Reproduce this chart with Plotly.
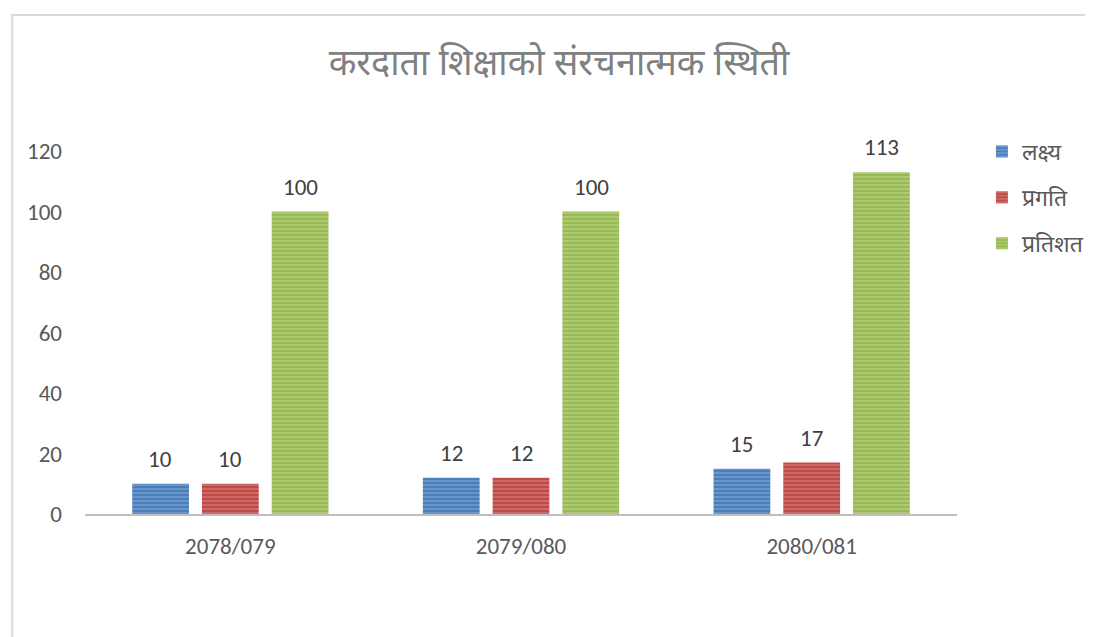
import plotly.graph_objects as go

categories = ["2078/079", "2079/080", "2080/081"]
series_names = ["लक्ष्य", "प्रगति", "प्रतिशत"]
target = [10, 12, 15]
progress = [10, 12, 17]
percent = [100, 100, 113]
y_ticks = [0, 20, 40, 60, 80, 100, 120]

colors = ["#4a7ebb", "#be4b48", "#98b954"]
fg = ["#b3cbea", "#ebb0ae", "#d9eab0"]

W, H = 1093, 637
OFF = 8  # page offset of the plot in the browser
L, R, T, B = 85 - OFF, 133 + OFF, 151 - OFF, 123 + OFF
pw = W - L - R
ph = H - T - B
slot_px = 70  # horizontal distance between bar centers within a group

num_font = "Carlito, Lato, Liberation Sans, sans-serif"

fig = go.Figure()
all_vals = [target, progress, percent]
for name, vals, c, f in zip(series_names, all_vals, colors, fg):
    fig.add_trace(go.Bar(
        x=categories, y=vals, name=name, legendgroup=name,
        marker=dict(color=c, line=dict(width=0),
                    pattern=dict(shape="-", fgcolor=f, size=4, solidity=0.3, fillmode="overlay")),
        cliponaxis=False,
    ))

annotations = []
for i, vals in enumerate(all_vals):
    for cat, v in zip(categories, vals):
        annotations.append(dict(x=cat, y=v, xref="x", yref="y", text=str(v), showarrow=False,
                                xshift=(i - 1) * slot_px, yshift=25, yanchor="middle",
                                font=dict(size=23, color="#404040", family=num_font)))

fig.add_shape(type="rect", xref="paper", yref="paper",
              x0=(12 - OFF - L) / pw, x1=(1110 - L) / pw,
              y0=-(700 - (H - B)) / ph, y1=(H - B - (15 - OFF)) / ph,
              line=dict(color="#d9d9d9", width=2), fillcolor="rgba(0,0,0,0)", layer="below")

fig.update_layout(
    width=W, height=H,
    margin=dict(l=L, r=R, t=T, b=B),
    paper_bgcolor="white", plot_bgcolor="white",
    title=dict(text="करदाता शिक्षाको संरचनात्मक स्थिती", x=(559 - OFF) / W, xref="container",
               y=1 - (62 - OFF) / H, yanchor="middle", xanchor="center",
               font=dict(size=36, color="#808080", family="Noto Sans, sans-serif")),
    barmode="group", bargap=0.28, bargroupgap=0.186,
    legend=dict(x=(985 - OFF - L) / pw, y=(H - B - (130 - OFF)) / ph, xanchor="left", yanchor="top",
                font=dict(size=23, color="#595959", family="Noto Sans, sans-serif"),
                tracegroupgap=13, itemwidth=30),
    annotations=annotations,
    showlegend=True,
)
fig.update_xaxes(showline=True, linecolor="#bfbfbf", linewidth=2, ticks="", showgrid=False,
                 tickfont=dict(size=23, color="#595959", family=num_font),
                 ticklabelstandoff=10)
fig.update_yaxes(range=[0, 120], tickvals=y_ticks, showgrid=False, zeroline=False, showline=False,
                 tickfont=dict(size=23, color="#595959", family=num_font),
                 ticklabelstandoff=22)

fig.write_html("out.html")
